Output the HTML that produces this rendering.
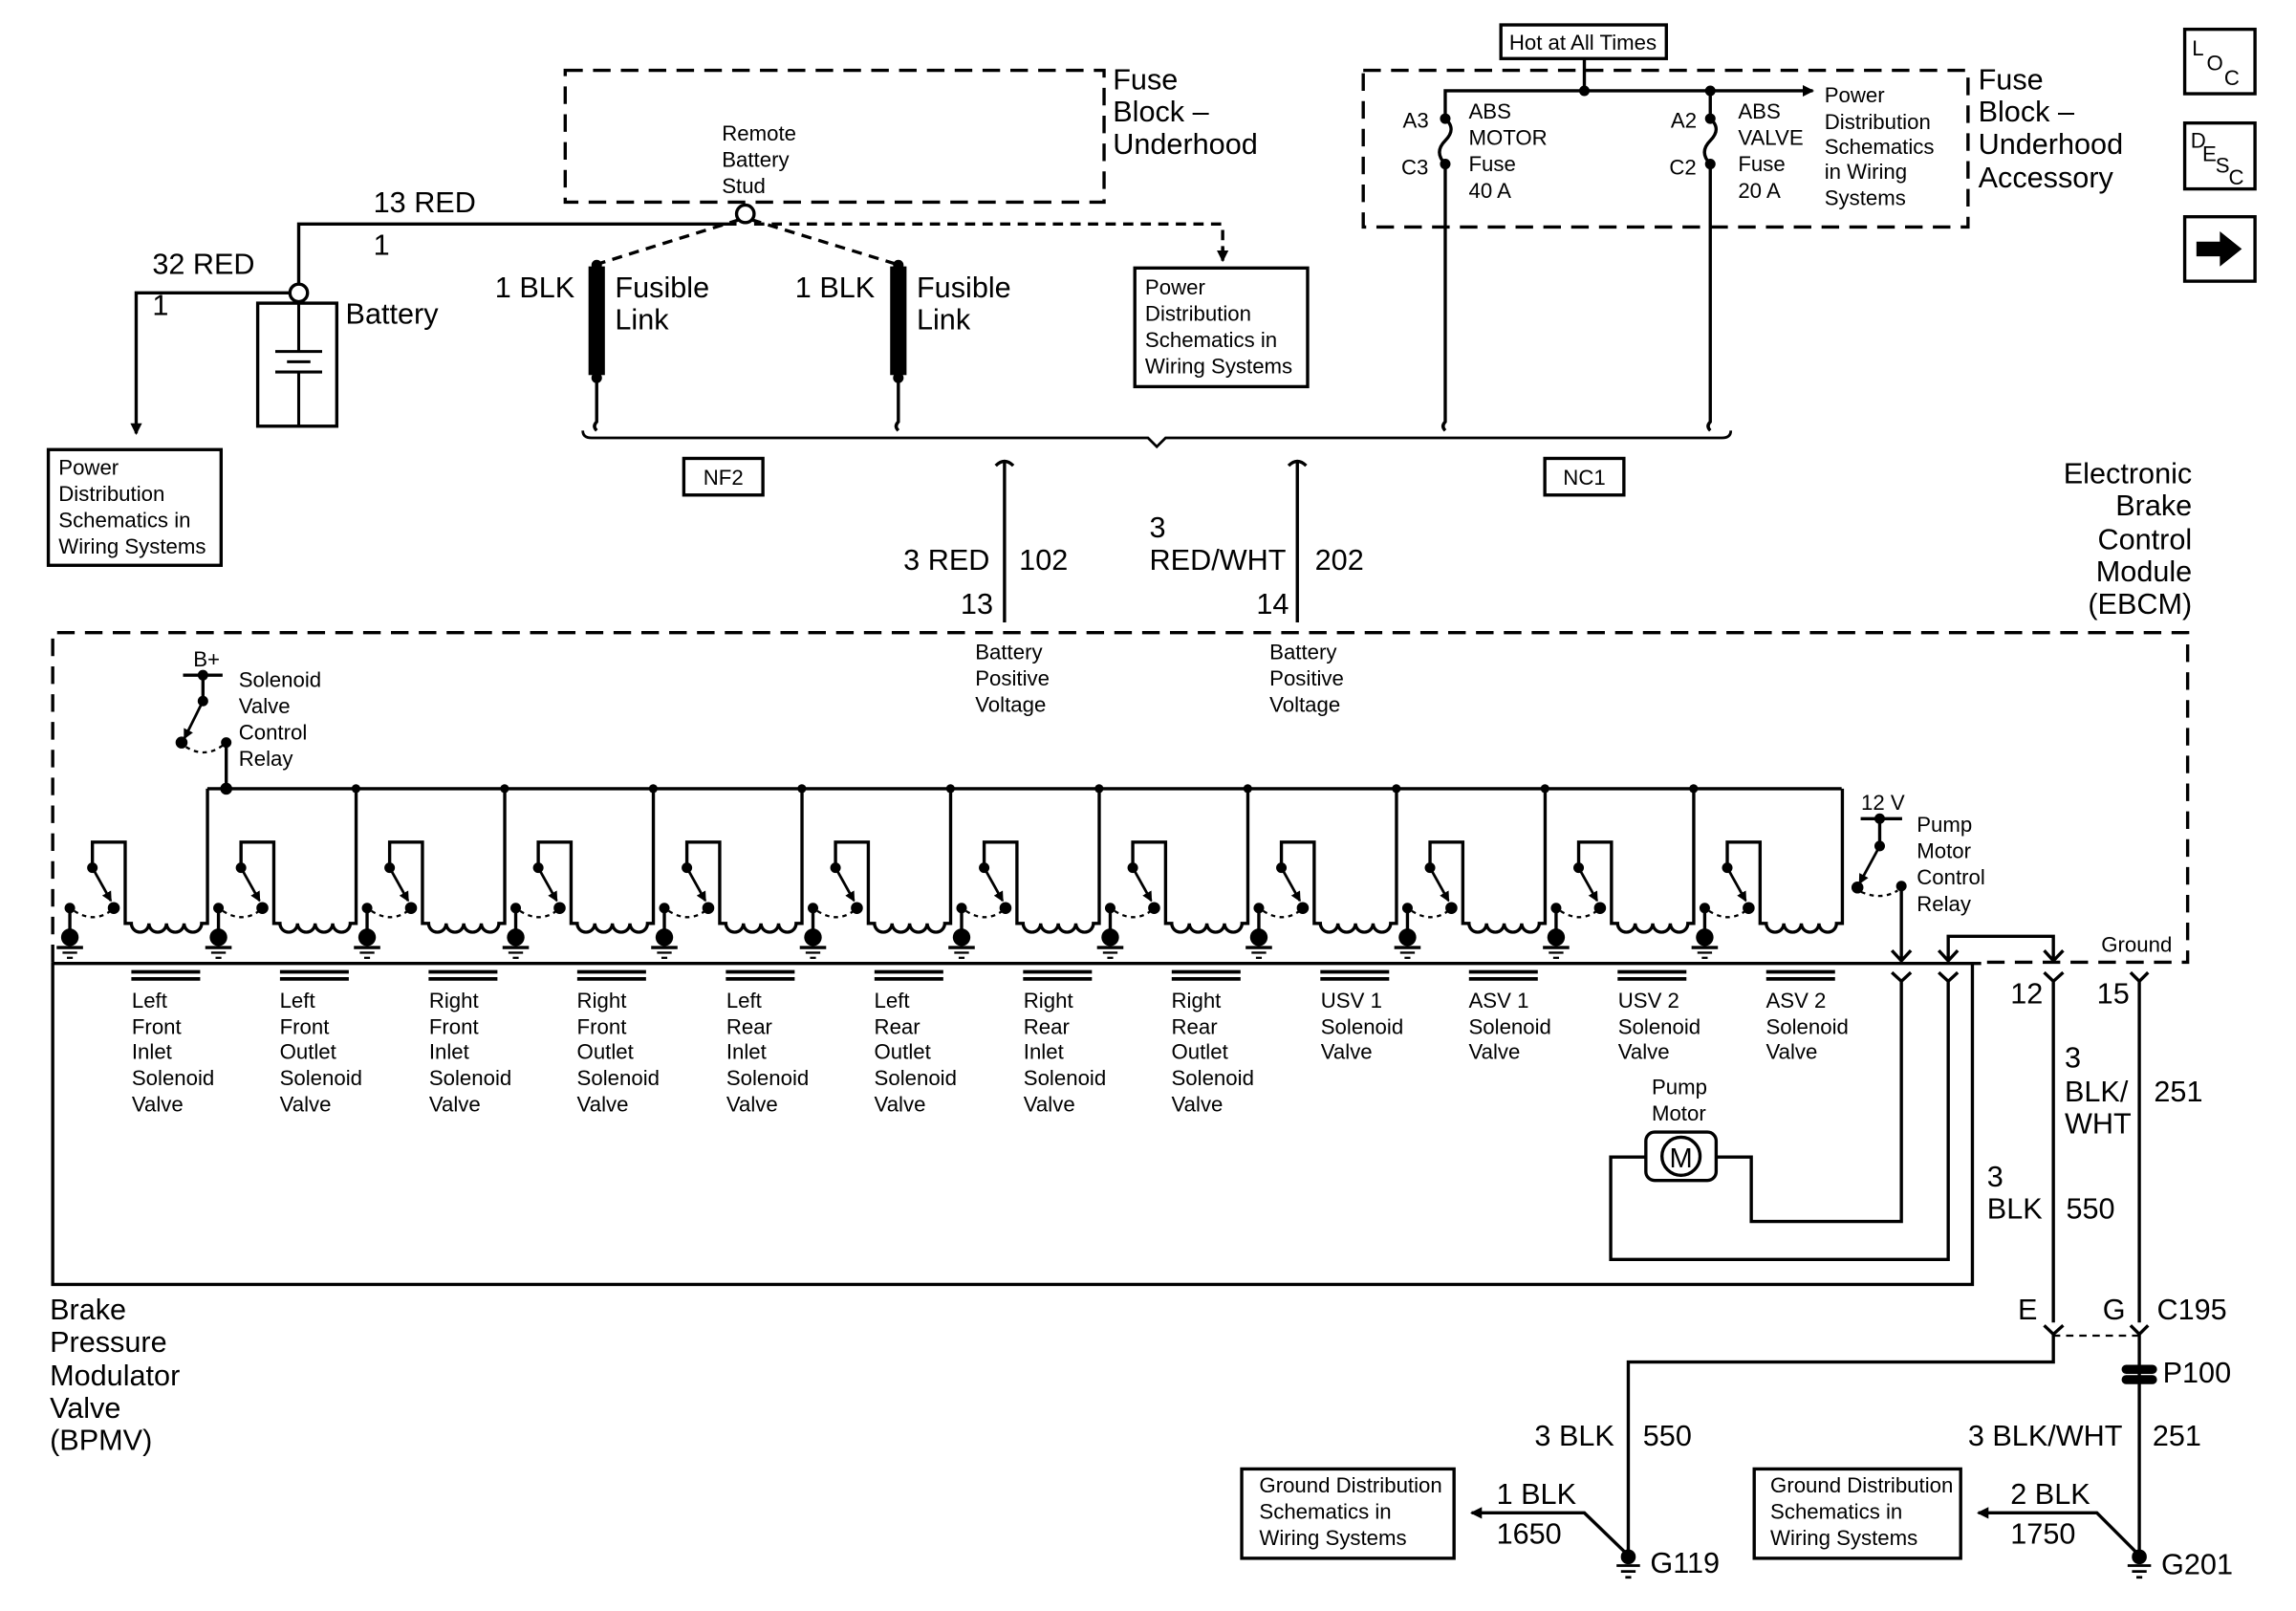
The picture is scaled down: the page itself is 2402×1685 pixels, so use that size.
<!DOCTYPE html>
<html><head><meta charset="utf-8"><style>
html,body{margin:0;padding:0;background:#fff}
svg{display:block}
text{font-family:"Liberation Sans",Arial,sans-serif;fill:#000}
.L{font-size:20px}.S{font-size:14.5px}
</style></head><body>
<svg width="2402" height="1685" viewBox="0 0 1568 1100" preserveAspectRatio="none" xmlns="http://www.w3.org/2000/svg">
<defs>
<marker id="ah" markerWidth="8" markerHeight="8" refX="7" refY="4" orient="auto" markerUnits="userSpaceOnUse"><path d="M0,0 L8,4 L0,8 z"/></marker>
<marker id="ahs" markerWidth="7" markerHeight="7" refX="6" refY="3.5" orient="auto" markerUnits="userSpaceOnUse"><path d="M0,0 L7,3.5 L0,7 z"/></marker>
<g id="unit" stroke="#000" fill="none" stroke-width="2.2">
<line x1="0" y1="620" x2="0" y2="640"/>
<circle cx="0" cy="620" r="2.5" fill="#000"/>
<circle cx="0" cy="640" r="6" fill="#000" stroke="none"/>
<line x1="-9" y1="647" x2="9" y2="647"/><line x1="-5" y1="650.5" x2="5" y2="650.5" stroke-width="1.5"/><line x1="-2" y1="654" x2="2" y2="654" stroke-width="1.5"/>
<path d="M3,622 Q17,631 29,621" stroke-dasharray="3,3" stroke-width="1.5"/>
<circle cx="15.4" cy="592.5" r="2.5" fill="#000"/>
<line x1="15.4" y1="592.5" x2="28" y2="615" marker-end="url(#ahs)" stroke-width="1.8"/>
<circle cx="30" cy="620" r="3" fill="#000"/>
<path d="M15.4,592.5 V575 H37.8 V630.5 H42 a6,6 0 0 0 12,0 a6,6 0 0 0 12,0 a6,6 0 0 0 12,0 a6,6 0 0 0 12,0 H94 V538.5"/>
<line x1="42" y1="663.6" x2="89" y2="663.6" stroke-width="2.4"/>
<line x1="42" y1="668.4" x2="89" y2="668.4" stroke-width="2.4"/>
</g>
</defs>

<g stroke="#000" fill="none" stroke-width="2.2">
<!-- top-left fuse block -->
<rect x="386" y="48" width="368" height="90" stroke-dasharray="12,7"/>
<circle cx="509" cy="146" r="6" fill="#fff"/>
<path d="M503,153 H204 V195"/>
<circle cx="204" cy="200" r="6" fill="#fff"/>
<path d="M198,200 H93 V296" marker-end="url(#ah)"/>
<rect x="176" y="207" width="54" height="84"/>
<path d="M204,207 V240 M188,240 H220 M196,247 H212 M188,254 H220 M204,254 V291" stroke-width="2"/>
<rect x="33" y="307" width="118" height="79"/>
<path d="M505,150 L409,180 M513,150 L611,180 M515,153 H835 V175" stroke-dasharray="7,5"/>
<path d="M835,168 V178" marker-end="url(#ah)"/>
<rect x="775" y="183" width="118" height="81"/>
<!-- fusible links -->
<rect x="403" y="183" width="9" height="72" fill="#000"/>
<circle cx="407.5" cy="181" r="2.5" fill="#000"/><circle cx="407.5" cy="258" r="2.5" fill="#000"/>
<path d="M407.5,258 V288 q-3,3 0,6"/>
<rect x="609" y="183" width="9" height="72" fill="#000"/>
<circle cx="613.5" cy="181" r="2.5" fill="#000"/><circle cx="613.5" cy="258" r="2.5" fill="#000"/>
<path d="M613.5,258 V288 q-3,3 0,6"/>
<!-- bracket -->
<path d="M398,294 q0,5 6,5 H784 l6,6 l6,-6 H1176 q6,0 6,-5" stroke-width="1.8"/>
<rect x="467" y="313" width="54" height="25"/>
<rect x="1055" y="313" width="54" height="25"/>
<path d="M680,318 q6,-6 12,0 M686,316 V425"/>
<path d="M880,318 q6,-6 12,0 M886,316 V425"/>
<!-- right fuse block -->
<rect x="931" y="48" width="413" height="107" stroke-dasharray="12,7"/>
<rect x="1025" y="17" width="113" height="23"/>
<path d="M1082,40 V62"/><circle cx="1082" cy="62" r="2.5" fill="#000"/>
<path d="M987,81 V62 H1238" marker-end="url(#ah)"/>
<circle cx="1168" cy="62" r="2.5" fill="#000"/>
<path d="M1168,62 V81"/>
<circle cx="987" cy="81" r="2.5" fill="#000"/><circle cx="987" cy="112" r="2.5" fill="#000"/>
<path d="M987,81 q8,7 0,15 q-8,8 0,16 V288 q-3,3 0,6"/>
<circle cx="1168" cy="81" r="2.5" fill="#000"/><circle cx="1168" cy="112" r="2.5" fill="#000"/>
<path d="M1168,81 q8,7 0,15 q-8,8 0,16 V288 q-3,3 0,6"/>
<!-- nav icons -->
<rect x="1492" y="20" width="48" height="44"/>
<rect x="1492" y="84" width="48" height="45"/>
<rect x="1492" y="148" width="48" height="44"/>
<!-- EBCM dashed box -->
<path d="M36,657 V432 H1494 V657 H1353" stroke-dasharray="12,7"/>
<!-- BPMV solid -->
<path d="M36,657 V877 H1347 V657 M36,657.8 H1353"/>
<!-- bus -->
<path d="M141.6,538.5 H1257.7"/>
<!-- relay -->
<path d="M125,461 H152 M138.6,461 V478.7"/>
<circle cx="138.6" cy="461" r="2.5" fill="#000"/><circle cx="138.6" cy="478.7" r="2.5" fill="#000"/>
<line x1="138.6" y1="478.7" x2="126" y2="504" marker-end="url(#ahs)" stroke-width="1.8"/>
<circle cx="124" cy="507" r="3" fill="#000"/>
<path d="M127,510 Q140,518 152,509" stroke-dasharray="3,3" stroke-width="1.5"/>
<circle cx="154.5" cy="507" r="2.5" fill="#000"/>
<path d="M154.5,507 V538.5"/><circle cx="154.5" cy="538.5" r="3" fill="#000"/>
<!-- pump relay -->
<path d="M1270.7,559 H1299 M1283.7,559 V577.7"/>
<circle cx="1283.7" cy="559" r="2.5" fill="#000"/><circle cx="1283.7" cy="577.7" r="2.5" fill="#000"/>
<line x1="1283.7" y1="577.7" x2="1270" y2="603" marker-end="url(#ahs)" stroke-width="1.8"/>
<circle cx="1268.5" cy="606" r="3" fill="#000"/>
<path d="M1271,609 Q1285,615 1296,608" stroke-dasharray="3,3" stroke-width="1.5"/>
<circle cx="1298.5" cy="605" r="2.5" fill="#000"/>
<path d="M1298.5,605 V656 M1292,649 L1298.5,656 L1305,649"/>
<path d="M1330.5,656 V639.3 H1402.3 V656 M1324,649 L1330.5,656 L1337,649 M1396,649 L1402.3,656 L1409,649"/>
<!-- Y connectors -->
<path d="M1292,664 L1298.5,670 L1305,664 M1298.5,670 V834 H1196 V790 H1172"/>
<path d="M1324,664 L1330.5,670 L1337,664 M1330.5,670 V860 H1100 V790 H1124"/>
<rect x="1124" y="773" width="48" height="33" rx="6"/>
<circle cx="1148" cy="789.5" r="13"/>
<path d="M1396,664 L1402.3,670 L1409,664 M1402.3,670 V903"/>
<path d="M1455,664 L1461,670 L1467,664 M1461,670 V903"/>
<path d="M1396,905 L1402.3,911 L1409,905 M1455,905 L1461,911 L1467,905" />
<path d="M1402,912 H1461" stroke-dasharray="5,4" stroke-width="1.5"/>
<path d="M1402.3,911 V930 H1112 V1062"/>
<path d="M1461,911 V1062"/>
<rect x="1450" y="933" width="22" height="4" rx="2" fill="#000"/>
<rect x="1450" y="940" width="22" height="4" rx="2" fill="#000"/>
<!-- grounds -->
<circle cx="1112" cy="1063" r="4" fill="#000"/>
<path d="M1104,1069 H1120 M1107,1073 H1117 M1110,1077 H1114" stroke-width="1.8"/>
<circle cx="1461" cy="1063" r="4" fill="#000"/>
<path d="M1453,1069 H1469 M1456,1073 H1466 M1459,1077 H1463" stroke-width="1.8"/>
<rect x="848" y="1003" width="145" height="61"/>
<path d="M1112,1062 L1082,1033 H1005" marker-end="url(#ah)"/>
<rect x="1198" y="1003" width="141" height="61"/>
<path d="M1461,1062 L1432,1033 H1351" marker-end="url(#ah)"/>
</g>
<path d="M1500,165 H1516 V158 L1531,170 L1516,182 V175 H1500 Z" fill="#000"/>

<!-- units -->
<use href="#unit" x="47.7"/>
<use href="#unit" x="149.2"/>
<use href="#unit" x="250.7"/>
<use href="#unit" x="352.2"/>
<use href="#unit" x="453.7"/>
<use href="#unit" x="555.2"/>
<use href="#unit" x="656.7"/>
<use href="#unit" x="758.2"/>
<use href="#unit" x="859.7"/>
<use href="#unit" x="961.2"/>
<use href="#unit" x="1062.7"/>
<use href="#unit" x="1164.2"/>
<g fill="#000">
<circle cx="243.1" cy="538.5" r="3"/><circle cx="344.6" cy="538.5" r="3"/><circle cx="446.1" cy="538.5" r="3"/><circle cx="547.6" cy="538.5" r="3"/><circle cx="649.1" cy="538.5" r="3"/><circle cx="750.6" cy="538.5" r="3"/><circle cx="852.1" cy="538.5" r="3"/><circle cx="953.6" cy="538.5" r="3"/><circle cx="1055.1" cy="538.5" r="3"/><circle cx="1156.6" cy="538.5" r="3"/>
</g>

<!-- text -->
<text class="L" x="760" y="61">Fuse</text><text class="L" x="760" y="83">Block –</text><text class="L" x="760" y="105">Underhood</text>
<text class="S" x="493" y="96">Remote</text><text class="S" x="493" y="114">Battery</text><text class="S" x="493" y="132">Stud</text>
<text class="L" x="255" y="145">13 RED</text><text class="L" x="255" y="174">1</text>
<text class="L" x="104" y="187">32 RED</text><text class="L" x="104" y="215">1</text>
<text class="L" x="236" y="221">Battery</text>
<text class="S" x="40" y="324">Power</text><text class="S" x="40" y="342">Distribution</text><text class="S" x="40" y="360">Schematics in</text><text class="S" x="40" y="378">Wiring Systems</text>
<text class="L" x="338" y="203">1 BLK</text><text class="L" x="420" y="203">Fusible</text><text class="L" x="420" y="225">Link</text>
<text class="L" x="543" y="203">1 BLK</text><text class="L" x="626" y="203">Fusible</text><text class="L" x="626" y="225">Link</text>
<text class="S" x="782" y="201">Power</text><text class="S" x="782" y="219">Distribution</text><text class="S" x="782" y="237">Schematics in</text><text class="S" x="782" y="255">Wiring Systems</text>
<text class="S" x="494" y="331" text-anchor="middle">NF2</text><text class="S" x="1082" y="331" text-anchor="middle">NC1</text>
<text class="L" x="617" y="389">3 RED</text><text class="L" x="696" y="389">102</text><text class="L" x="656" y="419">13</text>
<text class="L" x="785" y="367">3</text><text class="L" x="785" y="389">RED/WHT</text><text class="L" x="898" y="389">202</text><text class="L" x="858" y="419">14</text>
<text class="S" x="666" y="450">Battery</text><text class="S" x="666" y="468">Positive</text><text class="S" x="666" y="486">Voltage</text>
<text class="S" x="867" y="450">Battery</text><text class="S" x="867" y="468">Positive</text><text class="S" x="867" y="486">Voltage</text>
<text class="S" x="1081" y="34" text-anchor="middle">Hot at All Times</text>
<text class="S" x="958" y="87">A3</text><text class="S" x="957" y="119">C3</text>
<text class="S" x="1003" y="81">ABS</text><text class="S" x="1003" y="99">MOTOR</text><text class="S" x="1003" y="117">Fuse</text><text class="S" x="1003" y="135">40 A</text>
<text class="S" x="1141" y="87">A2</text><text class="S" x="1140" y="119">C2</text>
<text class="S" x="1187" y="81">ABS</text><text class="S" x="1187" y="99">VALVE</text><text class="S" x="1187" y="117">Fuse</text><text class="S" x="1187" y="135">20 A</text>
<text class="S" x="1246" y="70">Power</text><text class="S" x="1246" y="88">Distribution</text><text class="S" x="1246" y="105">Schematics</text><text class="S" x="1246" y="122">in Wiring</text><text class="S" x="1246" y="140">Systems</text>
<text class="L" x="1351" y="61">Fuse</text><text class="L" x="1351" y="83">Block –</text><text class="L" x="1351" y="105">Underhood</text><text class="L" x="1351" y="128">Accessory</text>
<text class="S" x="1497" y="38">L</text><text class="S" x="1507" y="48">O</text><text class="S" x="1519" y="58">C</text>
<text class="S" x="1496" y="101">D</text><text class="S" x="1504" y="110">E</text><text class="S" x="1513" y="118">S</text><text class="S" x="1522" y="126">C</text>
<text class="L" x="1497" y="330" text-anchor="end">Electronic</text><text class="L" x="1497" y="352" text-anchor="end">Brake</text><text class="L" x="1497" y="375" text-anchor="end">Control</text><text class="L" x="1497" y="397" text-anchor="end">Module</text><text class="L" x="1497" y="419" text-anchor="end">(EBCM)</text>
<text class="S" x="132" y="455">B+</text>
<text class="S" x="163" y="469">Solenoid</text><text class="S" x="163" y="487">Valve</text><text class="S" x="163" y="505">Control</text><text class="S" x="163" y="523">Relay</text>
<text class="S" x="1271" y="553">12 V</text>
<text class="S" x="1309" y="568">Pump</text><text class="S" x="1309" y="586">Motor</text><text class="S" x="1309" y="604">Control</text><text class="S" x="1309" y="622">Relay</text>
<text class="S" x="1435" y="650">Ground</text>

<g class="S">
<text class="S" x="90" y="688">Left</text><text class="S" x="90" y="706">Front</text><text class="S" x="90" y="723">Inlet</text><text class="S" x="90" y="741">Solenoid</text><text class="S" x="90" y="759">Valve</text>
<text class="S" x="191" y="688">Left</text><text class="S" x="191" y="706">Front</text><text class="S" x="191" y="723">Outlet</text><text class="S" x="191" y="741">Solenoid</text><text class="S" x="191" y="759">Valve</text>
<text class="S" x="293" y="688">Right</text><text class="S" x="293" y="706">Front</text><text class="S" x="293" y="723">Inlet</text><text class="S" x="293" y="741">Solenoid</text><text class="S" x="293" y="759">Valve</text>
<text class="S" x="394" y="688">Right</text><text class="S" x="394" y="706">Front</text><text class="S" x="394" y="723">Outlet</text><text class="S" x="394" y="741">Solenoid</text><text class="S" x="394" y="759">Valve</text>
<text class="S" x="496" y="688">Left</text><text class="S" x="496" y="706">Rear</text><text class="S" x="496" y="723">Inlet</text><text class="S" x="496" y="741">Solenoid</text><text class="S" x="496" y="759">Valve</text>
<text class="S" x="597" y="688">Left</text><text class="S" x="597" y="706">Rear</text><text class="S" x="597" y="723">Outlet</text><text class="S" x="597" y="741">Solenoid</text><text class="S" x="597" y="759">Valve</text>
<text class="S" x="699" y="688">Right</text><text class="S" x="699" y="706">Rear</text><text class="S" x="699" y="723">Inlet</text><text class="S" x="699" y="741">Solenoid</text><text class="S" x="699" y="759">Valve</text>
<text class="S" x="800" y="688">Right</text><text class="S" x="800" y="706">Rear</text><text class="S" x="800" y="723">Outlet</text><text class="S" x="800" y="741">Solenoid</text><text class="S" x="800" y="759">Valve</text>
<text class="S" x="902" y="688">USV 1</text><text class="S" x="902" y="706">Solenoid</text><text class="S" x="902" y="723">Valve</text>
<text class="S" x="1003" y="688">ASV 1</text><text class="S" x="1003" y="706">Solenoid</text><text class="S" x="1003" y="723">Valve</text>
<text class="S" x="1105" y="688">USV 2</text><text class="S" x="1105" y="706">Solenoid</text><text class="S" x="1105" y="723">Valve</text>
<text class="S" x="1206" y="688">ASV 2</text><text class="S" x="1206" y="706">Solenoid</text><text class="S" x="1206" y="723">Valve</text>
</g>
<text class="S" x="1128" y="747">Pump</text><text class="S" x="1128" y="765">Motor</text>
<text x="1148" y="797" text-anchor="middle" style="font-size:19px">M</text>
<text class="L" x="1373" y="685">12</text><text class="L" x="1432" y="685">15</text>
<text class="L" x="1410" y="729">3</text><text class="L" x="1410" y="752">BLK/</text><text class="L" x="1410" y="774">WHT</text><text class="L" x="1471" y="752">251</text>
<text class="L" x="1357" y="810">3</text><text class="L" x="1357" y="832">BLK</text><text class="L" x="1411" y="832">550</text>
<text class="L" x="1378" y="901">E</text><text class="L" x="1436" y="901">G</text><text class="L" x="1473" y="901">C195</text>
<text class="L" x="1477" y="944">P100</text>
<text class="L" x="1048" y="987">3 BLK</text><text class="L" x="1122" y="987">550</text>
<text class="L" x="1344" y="987">3 BLK/WHT</text><text class="L" x="1470" y="987">251</text>
<text class="S" x="860" y="1019">Ground Distribution</text><text class="S" x="860" y="1037">Schematics in</text><text class="S" x="860" y="1055">Wiring Systems</text>
<text class="S" x="1209" y="1019">Ground Distribution</text><text class="S" x="1209" y="1037">Schematics in</text><text class="S" x="1209" y="1055">Wiring Systems</text>
<text class="L" x="1022" y="1027">1 BLK</text><text class="L" x="1022" y="1054">1650</text>
<text class="L" x="1373" y="1027">2 BLK</text><text class="L" x="1373" y="1054">1750</text>
<text class="L" x="1127" y="1074">G119</text><text class="L" x="1476" y="1075">G201</text>
<text class="L" x="34" y="901">Brake</text><text class="L" x="34" y="923">Pressure</text><text class="L" x="34" y="946">Modulator</text><text class="L" x="34" y="968">Valve</text><text class="L" x="34" y="990">(BPMV)</text>
</svg>
</body></html>
